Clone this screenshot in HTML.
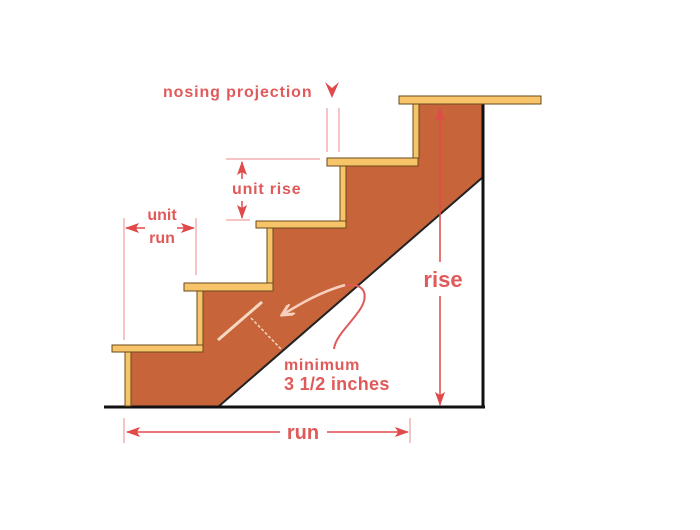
<!DOCTYPE html>
<html><head><style>html,body{margin:0;padding:0;background:#fff}</style></head>
<body>
<svg width="700" height="525" viewBox="0 0 700 525" xmlns="http://www.w3.org/2000/svg" font-family="Liberation Sans, sans-serif">
<defs>
<marker id="ah" markerWidth="14" markerHeight="10" refX="13" refY="5" orient="auto" markerUnits="userSpaceOnUse"><path d="M0,0 L14,5 L0,10 L3,5 Z" fill="#e04a4a"/></marker>
<marker id="ahc" markerWidth="14" markerHeight="12" refX="12" refY="6" orient="auto" markerUnits="userSpaceOnUse"><path d="M0,0 L12,6 L0,12" fill="none" stroke="#f6d0bd" stroke-width="3"/></marker>
</defs>
<polygon points="128,352 200,352 200,289 270,289 270,226 343,226 343,164 416,164 416,102 483,102 483,177 218,407 128,407" fill="#c8643a"/>
<line x1="218" y1="407" x2="483" y2="177" stroke="#222" stroke-width="2"/>
<line x1="483" y1="101" x2="483" y2="408" stroke="#111" stroke-width="3"/>
<line x1="104" y1="407" x2="485" y2="407" stroke="#111" stroke-width="3"/>
<g fill="#f7c46a" stroke="#6a4a1a" stroke-width="1">
<rect x="125" y="352" width="6" height="54"/>
<rect x="197" y="291" width="6" height="54"/>
<rect x="267" y="228" width="6" height="55"/>
<rect x="340" y="166" width="6" height="55"/>
<rect x="413" y="104" width="6" height="54"/>
<rect x="112" y="345" width="91" height="7"/>
<rect x="184" y="283" width="89" height="8"/>
<rect x="256" y="221" width="90" height="7"/>
<rect x="327" y="158" width="91" height="8"/>
<rect x="399" y="96" width="142" height="8"/>
</g>
<text x="163" y="97" font-size="16" font-weight="bold" fill="#e05a5a" letter-spacing="0.9">nosing projection</text>
<path d="M325,82 L332,98 L339,82 L332,88 Z" fill="#e04a4a"/>
<line x1="327" y1="108" x2="327" y2="152" stroke="#e88" stroke-width="1"/>
<line x1="339" y1="108" x2="339" y2="152" stroke="#e88" stroke-width="1"/>
<line x1="226" y1="159" x2="320" y2="159" stroke="#e88" stroke-width="1"/>
<line x1="226" y1="220" x2="250" y2="220" stroke="#e88" stroke-width="1"/>
<line x1="242" y1="179" x2="242" y2="162" stroke="#e04a4a" stroke-width="1.5" marker-end="url(#ah)"/>
<line x1="242" y1="201" x2="242" y2="218" stroke="#e04a4a" stroke-width="1.5" marker-end="url(#ah)"/>
<text x="232" y="194" font-size="16" font-weight="bold" fill="#e05a5a" letter-spacing="0.8">unit rise</text>
<line x1="124" y1="218" x2="124" y2="340" stroke="#e88" stroke-width="1"/>
<line x1="196" y1="218" x2="196" y2="275" stroke="#e88" stroke-width="1"/>
<line x1="145" y1="228" x2="126" y2="228" stroke="#e04a4a" stroke-width="1.5" marker-end="url(#ah)"/>
<line x1="177" y1="228" x2="194" y2="228" stroke="#e04a4a" stroke-width="1.5" marker-end="url(#ah)"/>
<text x="162" y="220" font-size="16" font-weight="bold" fill="#e05a5a" text-anchor="middle">unit</text>
<text x="162" y="243" font-size="16" font-weight="bold" fill="#e05a5a" text-anchor="middle">run</text>
<line x1="440" y1="262" x2="440" y2="108" stroke="#e04a4a" stroke-width="1.5" marker-end="url(#ah)"/>
<line x1="440" y1="296" x2="440" y2="405" stroke="#e04a4a" stroke-width="1.5" marker-end="url(#ah)"/>
<text x="443" y="287" font-size="22" font-weight="bold" fill="#e05a5a" text-anchor="middle">rise</text>
<line x1="124" y1="418" x2="124" y2="443" stroke="#e88" stroke-width="1"/>
<line x1="410" y1="418" x2="410" y2="443" stroke="#e88" stroke-width="1"/>
<line x1="280" y1="432" x2="127" y2="432" stroke="#e04a4a" stroke-width="1.5" marker-end="url(#ah)"/>
<line x1="327" y1="432" x2="408" y2="432" stroke="#e04a4a" stroke-width="1.5" marker-end="url(#ah)"/>
<text x="303" y="439" font-size="20" font-weight="bold" fill="#e05a5a" text-anchor="middle">run</text>
<line x1="218" y1="340" x2="262" y2="302" stroke="#f6d8c0" stroke-width="3"/>
<line x1="251" y1="318" x2="281" y2="349" stroke="#f6d8c0" stroke-width="1.5" stroke-dasharray="3,2"/>
<path d="M334,349 C336,330 370,310 364,292 C358,278 330,285 282,315" fill="none" stroke="#e05a5a" stroke-width="2"/>
<path d="M345,285 C320,292 300,304 282,315" fill="none" stroke="#f6d0bd" stroke-width="2.5" marker-end="url(#ahc)"/>
<text x="284" y="370" font-size="16" font-weight="bold" fill="#e05a5a" letter-spacing="0.7">minimum</text>
<text x="284" y="390" font-size="18" font-weight="bold" fill="#e05a5a" letter-spacing="0.3">3 1/2 inches</text>
</svg>
</body></html>
